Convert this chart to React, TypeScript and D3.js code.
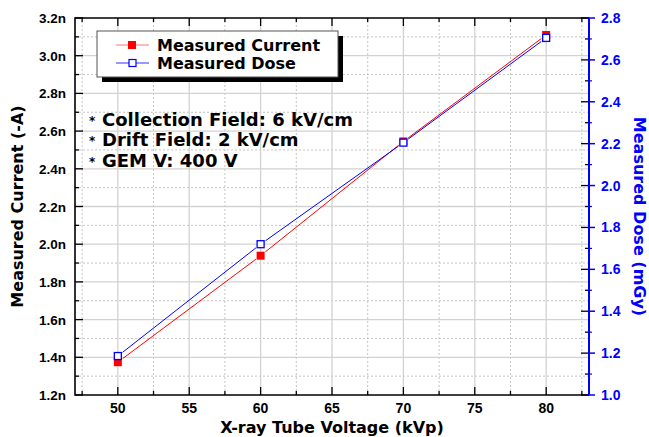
import React, { useEffect, useRef } from 'react'
import * as d3 from 'd3'

// data
const voltage = [50, 60, 70, 80]
const currentN = [1.374, 1.939, 2.545, 3.11] // nA
const doseMGy = [1.186, 1.72, 2.205, 2.705]

const xTicks = [50, 55, 60, 65, 70, 75, 80]
const leftTicks = [1.2, 1.4, 1.6, 1.8, 2.0, 2.2, 2.4, 2.6, 2.8, 3.0, 3.2]
const rightTicks = [1.0, 1.2, 1.4, 1.6, 1.8, 2.0, 2.2, 2.4, 2.6, 2.8]

const notes = ['Collection Field: 6 kV/cm', 'Drift Field: 2 kV/cm', 'GEM V: 400 V']

const TXT = '"DejaVu Sans", sans-serif'
const NUM = '"Liberation Sans", Arial, sans-serif'
const BLUE = '#0000ff'
const RED = '#ff0000'

export default function App() {
  const ref = useRef<SVGSVGElement>(null)

  useEffect(() => {
    const W = 649, H = 437
    const m = { left: 75, right: 60, top: 18, bottom: 42 }
    const x0 = m.left, x1 = W - m.right, y0 = H - m.bottom, y1 = m.top

    const svg = d3.select(ref.current)
    svg.selectAll('*').remove()

    const x = d3.scaleLinear().domain([47, 83]).range([x0, x1])
    const yL = d3.scaleLinear().domain([1.2, 3.2]).range([y0, y1])
    const yR = d3.scaleLinear().domain([1.0, 2.8]).range([y0, y1])

    const minorX = d3.range(47.5, 83, 5)
    const minorL = d3.range(1.3, 3.2, 0.2)
    const minorR = d3.range(1.1, 2.8, 0.2)

    // grid
    const grid = svg.append('g')
    grid.selectAll('.gxm').data(minorX).enter().append('line')
      .attr('x1', d => x(d)).attr('x2', d => x(d)).attr('y1', y0).attr('y2', y1)
      .attr('stroke', '#c4c4c4').attr('stroke-dasharray', '2,2')
    grid.selectAll('.gym').data(minorL).enter().append('line')
      .attr('x1', x0).attr('x2', x1).attr('y1', d => yL(d)).attr('y2', d => yL(d))
      .attr('stroke', '#c4c4c4').attr('stroke-dasharray', '2,2')
    grid.selectAll('.gx').data(xTicks).enter().append('line')
      .attr('x1', d => x(d)).attr('x2', d => x(d)).attr('y1', y0).attr('y2', y1)
      .attr('stroke', '#d2d2d2').attr('stroke-width', 1.3)
    grid.selectAll('.gy').data(leftTicks.slice(1, -1)).enter().append('line')
      .attr('x1', x0).attr('x2', x1).attr('y1', d => yL(d)).attr('y2', d => yL(d))
      .attr('stroke', '#d2d2d2').attr('stroke-width', 1.3)

    // ticks (pointing inward)
    const ticks = svg.append('g').attr('stroke', '#000').attr('stroke-width', 1.3)
    const tickX = (vals: number[], len: number) => {
      vals.forEach(v => {
        ticks.append('line').attr('x1', x(v)).attr('x2', x(v)).attr('y1', y0).attr('y2', y0 - len)
        ticks.append('line').attr('x1', x(v)).attr('x2', x(v)).attr('y1', y1).attr('y2', y1 + len)
      })
    }
    tickX(xTicks, 8)
    tickX(minorX, 4)
    leftTicks.forEach(v => {
      ticks.append('line').attr('x1', x0).attr('x2', x0 + 8).attr('y1', yL(v)).attr('y2', yL(v))
    })
    minorL.forEach(v => {
      ticks.append('line').attr('x1', x0).attr('x2', x0 + 4).attr('y1', yL(v)).attr('y2', yL(v))
    })
    rightTicks.forEach(v => {
      ticks.append('line').attr('x1', x1).attr('x2', x1 - 8).attr('y1', yR(v)).attr('y2', yR(v))
    })
    minorR.forEach(v => {
      ticks.append('line').attr('x1', x1).attr('x2', x1 - 4).attr('y1', yR(v)).attr('y2', yR(v))
    })
    rightTicks.forEach(v => {
      svg.append('line').attr('x1', x1).attr('x2', x1 + 6).attr('y1', yR(v)).attr('y2', yR(v))
        .attr('stroke', BLUE).attr('stroke-width', 1.5)
    })
    minorR.forEach(v => {
      svg.append('line').attr('x1', x1).attr('x2', x1 + 3).attr('y1', yR(v)).attr('y2', yR(v))
        .attr('stroke', BLUE).attr('stroke-width', 1.2)
    })

    // frame
    svg.append('path').attr('d', `M${x1},${y1}H${x0}V${y0}H${x1}`)
      .attr('fill', 'none').attr('stroke', '#000').attr('stroke-width', 1.6)
    svg.append('line').attr('x1', x1).attr('x2', x1).attr('y1', y1).attr('y2', y0)
      .attr('stroke', BLUE).attr('stroke-width', 2)

    // tick labels
    svg.append('g').selectAll('text').data(xTicks).enter().append('text')
      .attr('x', d => x(d)).attr('y', 413).attr('text-anchor', 'middle')
      .attr('font-family', NUM).attr('font-weight', 'bold').attr('font-size', 14)
      .text(d => d)
    svg.append('g').selectAll('text').data(leftTicks).enter().append('text')
      .attr('x', 66).attr('y', d => yL(d) + 5).attr('text-anchor', 'end')
      .attr('font-family', NUM).attr('font-weight', 'bold').attr('font-size', 13.5)
      .text(d => d.toFixed(1) + 'n')
    svg.append('g').selectAll('text').data(rightTicks).enter().append('text')
      .attr('x', 601).attr('y', d => yR(d) + 5)
      .attr('font-family', NUM).attr('font-weight', 'bold').attr('font-size', 14)
      .attr('fill', BLUE)
      .text(d => d.toFixed(1))

    // axis titles
    svg.append('text').attr('x', (x0 + x1) / 2).attr('y', 433).attr('text-anchor', 'middle')
      .attr('font-family', TXT).attr('font-weight', 'bold').attr('font-size', 16)
      .text('X-ray Tube Voltage (kVp)')
    svg.append('text').attr('transform', `translate(23,${(y0 + y1) / 2}) rotate(-90)`)
      .attr('text-anchor', 'middle')
      .attr('font-family', TXT).attr('font-weight', 'bold').attr('font-size', 16)
      .text('Measured Current (-A)')
    svg.append('text').attr('transform', `translate(634,${(y0 + y1) / 2 + 10}) rotate(90)`)
      .attr('text-anchor', 'middle').attr('fill', BLUE)
      .attr('font-family', TXT).attr('font-weight', 'bold').attr('font-size', 16)
      .text('Measured Dose (mGy)')

    // series lines with small gaps at the markers
    const gap = 6
    const drawSeries = (pts: [number, number][], color: string) => {
      const g = svg.append('g')
      for (let i = 0; i < pts.length - 1; i++) {
        const [ax, ay] = pts[i], [bx, by] = pts[i + 1]
        const len = Math.hypot(bx - ax, by - ay)
        const ux = (bx - ax) / len, uy = (by - ay) / len
        g.append('path')
          .attr('d', d3.line()([[ax + ux * gap, ay + uy * gap], [bx - ux * gap, by - uy * gap]]))
          .attr('stroke', color).attr('stroke-width', 1).attr('fill', 'none')
      }
      return g
    }
    const redPts = voltage.map((v, i) => [x(v), yL(currentN[i])] as [number, number])
    const bluePts = voltage.map((v, i) => [x(v), yR(doseMGy[i])] as [number, number])
    drawSeries(redPts, RED)
    drawSeries(bluePts, BLUE)

    svg.append('g').selectAll('rect').data(redPts).enter().append('rect')
      .attr('x', d => d[0] - 4).attr('y', d => d[1] - 4).attr('width', 8).attr('height', 8)
      .attr('fill', RED)
    svg.append('g').selectAll('rect').data(bluePts).enter().append('rect')
      .attr('x', d => d[0] - 3.5).attr('y', d => d[1] - 3.5).attr('width', 7).attr('height', 7)
      .attr('fill', '#fff').attr('stroke', BLUE).attr('stroke-width', 1.3)

    // legend
    const lg = svg.append('g')
    lg.append('rect').attr('x', 102).attr('y', 36).attr('width', 241).attr('height', 46).attr('fill', '#000')
    lg.append('rect').attr('x', 97).attr('y', 31).attr('width', 241).attr('height', 46)
      .attr('fill', '#fff').attr('stroke', '#555').attr('stroke-width', 1)
    const items = [
      { label: 'Measured Current', color: RED, filled: true, y: 45 },
      { label: 'Measured Dose', color: BLUE, filled: false, y: 63 },
    ]
    items.forEach(it => {
      lg.append('line').attr('x1', 116).attr('x2', 149).attr('y1', it.y).attr('y2', it.y)
        .attr('stroke', it.color).attr('stroke-width', 1).attr('opacity', it.filled ? 0.55 : 0.8)
      if (it.filled) {
        lg.append('rect').attr('x', 128).attr('y', it.y - 4).attr('width', 8).attr('height', 8).attr('fill', it.color)
      } else {
        lg.append('rect').attr('x', 129).attr('y', it.y - 3.5).attr('width', 7).attr('height', 7)
          .attr('fill', '#fff').attr('stroke', it.color).attr('stroke-width', 1.2)
      }
      lg.append('text').attr('x', 157).attr('y', it.y + 6)
        .attr('font-family', TXT).attr('font-weight', 'bold').attr('font-size', 16)
        .text(it.label)
    })

    // annotations
    notes.forEach((n, i) => {
      const by = 126 + i * 20.3
      svg.append('text').attr('x', 89).attr('y', by - 1)
        .attr('font-family', TXT).attr('font-weight', 'bold').attr('font-size', 12).text('*')
      svg.append('text').attr('x', 102).attr('y', by)
        .attr('font-family', TXT).attr('font-weight', 'bold').attr('font-size', 18).text(n)
    })
  }, [])

  return (
    <svg ref={ref} width={649} height={437}
      style={{ position: 'absolute', left: 0, top: 0, background: '#fff' }} />
  )
}
